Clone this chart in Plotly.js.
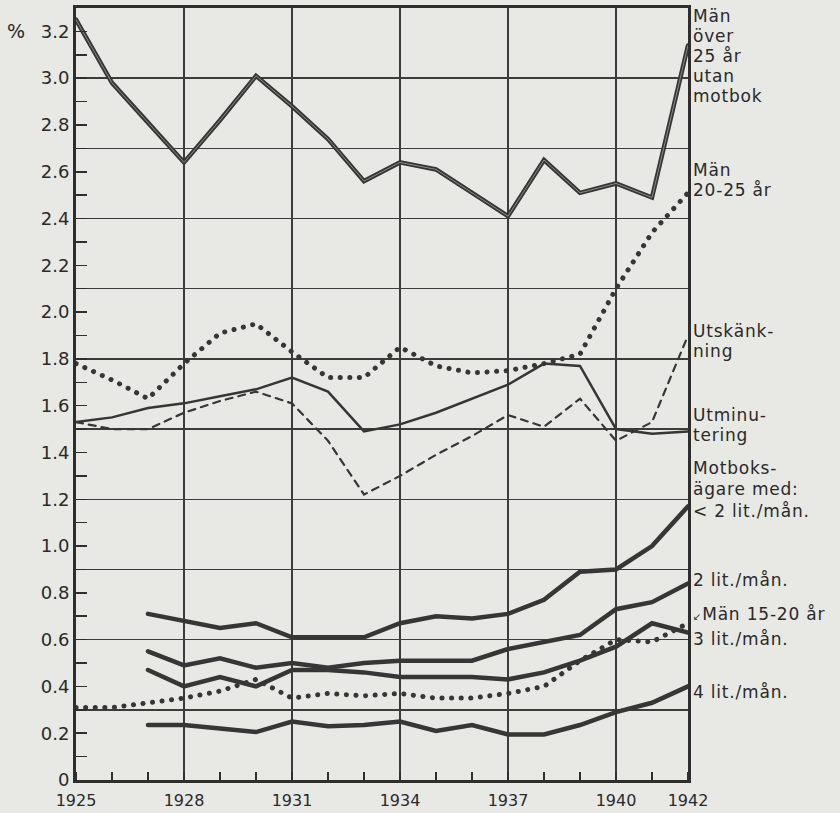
<!DOCTYPE html>
<html>
<head>
<meta charset="utf-8">
<script src="https://cdn.plot.ly/plotly-3.0.1.min.js"></script>
<style>
  html, body { margin: 0; padding: 0; background: #e8e8e4; }
  #chart { width: 840px; height: 813px; }
  path.js-line { stroke-linecap: round; }
  text.annotation-text { letter-spacing: 0.8px; }
</style>
</head>
<body>
<div id="chart"></div>
<script>
// ---- data ----
const yearsAll = [1925, 1926, 1927, 1928, 1929, 1930, 1931, 1932, 1933, 1934, 1935, 1936, 1937, 1938, 1939, 1940, 1941, 1942];
const yearsMotbok = [1927, 1928, 1929, 1930, 1931, 1932, 1933, 1934, 1935, 1936, 1937, 1938, 1939, 1940, 1941, 1942];

const menOver25 = [3.25, 2.98, 2.81, 2.64, 2.82, 3.01, 2.88, 2.74, 2.56, 2.64, 2.61, 2.51, 2.41, 2.65, 2.51, 2.55, 2.49, 3.14];
const men20to25 = [1.78, 1.71, 1.63, 1.78, 1.91, 1.95, 1.83, 1.72, 1.72, 1.85, 1.77, 1.74, 1.75, 1.78, 1.82, 2.10, 2.34, 2.51];
const utskankning = [1.53, 1.50, 1.50, 1.57, 1.62, 1.66, 1.61, 1.45, 1.22, 1.30, 1.39, 1.47, 1.56, 1.51, 1.63, 1.45, 1.53, 1.90];
const utminutering = [1.53, 1.55, 1.59, 1.61, 1.64, 1.67, 1.72, 1.66, 1.49, 1.52, 1.57, 1.63, 1.69, 1.78, 1.77, 1.50, 1.48, 1.49];
const under2lit = [0.71, 0.68, 0.65, 0.67, 0.61, 0.61, 0.61, 0.67, 0.70, 0.69, 0.71, 0.77, 0.89, 0.90, 1.00, 1.17];
const lit2 = [0.55, 0.49, 0.52, 0.48, 0.50, 0.48, 0.50, 0.51, 0.51, 0.51, 0.56, 0.59, 0.62, 0.73, 0.76, 0.84];
const lit3 = [0.47, 0.40, 0.44, 0.40, 0.47, 0.47, 0.46, 0.44, 0.44, 0.44, 0.43, 0.46, 0.51, 0.57, 0.67, 0.63];
const men15to20 = [0.31, 0.31, 0.33, 0.35, 0.38, 0.43, 0.35, 0.37, 0.36, 0.37, 0.35, 0.35, 0.37, 0.40, 0.51, 0.60, 0.59, 0.67];
const lit4 = [0.235, 0.235, 0.22, 0.205, 0.25, 0.23, 0.235, 0.25, 0.21, 0.235, 0.195, 0.195, 0.235, 0.29, 0.33, 0.40];

const xTickVals = [1925, 1928, 1931, 1934, 1937, 1940, 1942];
const xTickText = ['1925', '1928', '1931', '1934', '1937', '1940', '1942'];
const yTickVals = [0, 0.2, 0.4, 0.6, 0.8, 1.0, 1.2, 1.4, 1.6, 1.8, 2.0, 2.2, 2.4, 2.6, 2.8, 3.0, 3.2];
const yTickText = ['0', '0.2', '0.4', '0.6', '0.8', '1.0', '1.2', '1.4', '1.6', '1.8', '2.0', '2.2', '2.4', '2.6', '2.8', '3.0', '3.2'];

// ---- labels (text + placement in axis units) ----
const labelLines = [
  { text: 'Män', y: 3.265 },
  { text: 'över', y: 3.179 },
  { text: '25 år', y: 3.094 },
  { text: 'utan', y: 3.009 },
  { text: 'motbok', y: 2.923 },
  { text: 'Män', y: 2.607 },
  { text: '20-25 år', y: 2.521 },
  { text: 'Utskänk-', y: 1.919 },
  { text: 'ning', y: 1.833 },
  { text: 'Utminu-', y: 1.560 },
  { text: 'tering', y: 1.474 },
  { text: 'Motboks-', y: 1.333 },
  { text: 'ägare med:', y: 1.245 },
  { text: '< 2 lit./mån.', y: 1.150 },
  { text: '2 lit./mån.', y: 0.855 },
  { text: '<span style="font-size:10px">↙</span>Män 15-20 år', y: 0.709 },
  { text: '3 lit./mån.', y: 0.603 },
  { text: '4 lit./mån.', y: 0.376 }
];

const ink = '#363636';
const thick = { color: ink, width: 4.5 };

const traces = [
  { x: yearsAll, y: menOver25, line: { color: ink, width: 4.5 } },
  { x: yearsAll, y: menOver25, line: { color: '#8a8a86', width: 1 } },
  { x: yearsAll, y: men20to25, line: { color: ink, width: 5, dash: '0.1px,9.5px' } },
  { x: yearsAll, y: utskankning, line: { color: ink, width: 2.2, dash: '7px,6px' } },
  { x: yearsAll, y: utminutering, line: { color: ink, width: 2.5 } },
  { x: yearsMotbok, y: under2lit, line: thick },
  { x: yearsMotbok, y: lit2, line: thick },
  { x: yearsMotbok, y: lit3, line: thick },
  { x: yearsAll, y: men15to20, line: { color: ink, width: 5, dash: '0.1px,9.5px' } },
  { x: yearsMotbok, y: lit4, line: thick },
  // carrier for the 0.3-step grid axis
  { x: yearsAll, y: menOver25, yaxis: 'y2', line: { width: 0 }, opacity: 0 }
].map(t => Object.assign({ type: 'scatter', mode: 'lines', hoverinfo: 'skip', showlegend: false }, t));

const annotations = labelLines.map(l => ({
  xref: 'paper', yref: 'y', x: 1.005, y: l.y, xanchor: 'left', yanchor: 'middle',
  text: l.text, showarrow: false,
  font: { family: 'DejaVu Sans', size: 17, color: '#2a2a2a' }
}));
annotations.push({
  xref: 'paper', yref: 'y', x: -0.098, y: 3.2, xanchor: 'center', yanchor: 'middle',
  text: '%', showarrow: false, font: { family: 'DejaVu Sans', size: 19, color: '#2a2a2a' }
});

const layout = {
  width: 840, height: 813,
  margin: { l: 76, r: 152, t: 8, b: 33 },
  paper_bgcolor: '#e8e8e4', plot_bgcolor: '#e8e8e4',
  showlegend: false,
  xaxis: {
    range: [1925, 1942], tickmode: 'array', tickvals: xTickVals, ticktext: xTickText,
    showgrid: true, gridcolor: '#3c3c3c', gridwidth: 1.5,
    showline: true, linecolor: '#2e2e2e', linewidth: 3, mirror: true,
    ticks: '', zeroline: false, ticklabelstandoff: 4,
    minor: { dtick: 1, ticks: 'inside', ticklen: 8, tickwidth: 1.5, tickcolor: '#2e2e2e', showgrid: false },
    tickfont: { family: 'DejaVu Sans', size: 16, color: '#2a2a2a' }
  },
  yaxis: {
    range: [0, 3.3], tickmode: 'array', tickvals: yTickVals, ticktext: yTickText,
    showgrid: false, zeroline: false,
    showline: true, linecolor: '#2e2e2e', linewidth: 3, mirror: true,
    ticks: 'inside', ticklen: 11, tickwidth: 1.5, tickcolor: '#2e2e2e',
    minor: { dtick: 0.1, ticks: 'inside', ticklen: 11, tickwidth: 1.5, tickcolor: '#2e2e2e', showgrid: false },
    tickfont: { family: 'DejaVu Sans', size: 18, color: '#2a2a2a' }
  },
  yaxis2: {
    overlaying: 'y', range: [0, 3.3], dtick: 0.3, tick0: 0,
    showgrid: true, gridcolor: '#3c3c3c', gridwidth: 1.5,
    showticklabels: false, ticks: '', zeroline: false, showline: false
  },
  annotations: annotations
};

Plotly.newPlot('chart', traces, layout, { staticPlot: true, displayModeBar: false });
</script>
</body>
</html>
